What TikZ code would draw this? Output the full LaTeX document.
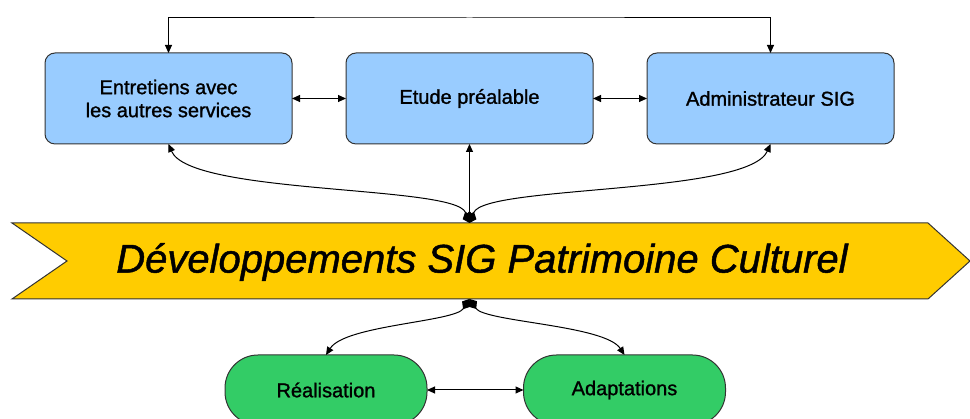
\documentclass[tikz,border=0pt]{standalone}
\usepackage{fontspec}
\setmainfont{Liberation Sans}[UprightFeatures={FakeBold=1.2}, ItalicFeatures={FakeBold=1.2}]
\usetikzlibrary{arrows.meta, positioning}
\definecolor{sigblue}{HTML}{99CCFF}
\definecolor{siggold}{HTML}{FFCC00}
\definecolor{siggreen}{HTML}{33CC66}
\definecolor{sigline}{HTML}{333333}
\tikzset{
  bluebox/.style={rectangle, rounded corners=10pt, draw=sigline, fill=sigblue, line width=1pt,
              minimum height=91pt, minimum width=247pt, align=center, outer sep=0pt,
              font=\fontsize{20}{23}\selectfont},
  greenbox/.style={rectangle, rounded corners=33pt, draw=sigline, fill=siggreen, line width=1pt,
              minimum height=70pt, minimum width=202pt, align=center, outer sep=0pt,
              font=\fontsize{20}{23}\selectfont},
  flow/.style={{Triangle[length=8pt,width=7pt]}-{Triangle[length=8pt,width=7pt]}, line width=1pt, draw=black},
  hub/.style={{Diamond[length=12pt,width=10pt]}-{Triangle[length=8pt,width=7pt]}, line width=1pt, draw=black},
}

\begin{document}
\begin{tikzpicture}[x=1pt, y=1pt, node distance=54pt and 54pt]
    \useasboundingbox (0,0) rectangle (970,419);
    \node[bluebox] (ent) at (168.5,320.5) {Entretiens avec\\ les autres services};
    \node[bluebox, right=of ent] (etu) {Etude préalable};
    \node[bluebox, right=of etu] (adm) {Administrateur SIG};

    % bandeau central
    \draw[fill=siggold, draw=sigline, line width=1pt]
        (12,196) -- (928,196) -- (970,158) -- (928,120) -- (12,120) -- (67,158) -- cycle;
    \node[font=\fontsize{40}{48}\selectfont\itshape] (dev) at (482,157)
        {Développements SIG Patrimoine Culturel};

    \node[greenbox] (rea) at (326,29) {Réalisation};
    \node[greenbox] (ada) at (624.5,29) {Adaptations};

    \coordinate (fb) at (469.5,401);
    \coordinate (jtop) at (469.5,196);
    \coordinate (jbot) at (469.5,120);

    \draw[flow] (ent.north) |- (fb) -| (adm.north);
    \draw[flow] (ent)--(etu);
    \draw[flow] (etu)--(adm);
    \draw[flow] (rea)--(ada);

    \draw[hub] (jtop) .. controls (455,234) and (190,224) .. (ent.south);
    \draw[hub] (jtop) -- (etu.south);
    \draw[hub] (jtop) .. controls (485,234) and (748,224) .. (adm.south);
    \draw[hub] (jbot) .. controls (455,97) and (345,94) .. (rea.north);
    \draw[hub] (jbot) .. controls (485,97) and (605,94) .. (ada.north);
  \end{tikzpicture}
\end{document}
